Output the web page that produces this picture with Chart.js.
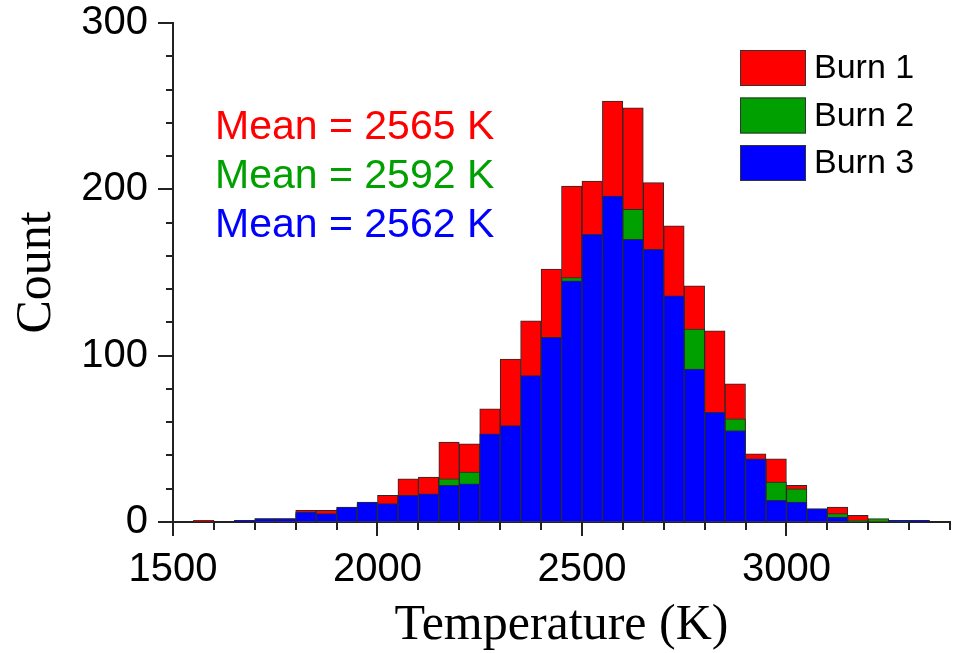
<!DOCTYPE html>
<html>
<head>
<meta charset="utf-8">
<script src="https://cdn.jsdelivr.net/npm/chart.js@4.4.1/dist/chart.umd.min.js"></script>
<style>
  html, body { margin: 0; padding: 0; background: #fff; }
  #wrap { width: 957px; height: 653px; }
</style>
</head>
<body>
<div id="wrap"><canvas id="canvas"></canvas></div>
<script>
// histogram bins, 50 K wide, left edges
var binStarts = [1550, 1600, 1650, 1700, 1750, 1800, 1850, 1900, 1950, 2000,
                 2050, 2100, 2150, 2200, 2250, 2300, 2350, 2400, 2450, 2500,
                 2550, 2600, 2650, 2700, 2750, 2800, 2850, 2900, 2950, 3000,
                 3050, 3100, 3150, 3200, 3250, 3300, 3350];
var binWidth = 50;
var burn1 = [1, 0, 0, 2, 1, 7, 7, 8, 11, 16,
             26, 27, 48, 47, 68, 98, 121, 152, 202, 205,
             253, 249, 204, 178, 142, 115, 83, 41, 38, 22,
             7, 9, 4, 1, 0, 0, 0];
var burn2 = [0, 0, 0, 1, 2, 5, 4, 7, 10, 9,
             14, 15, 26, 30, 45, 50, 80, 100, 147, 160,
             185, 188, 150, 130, 116, 60, 62, 35, 24, 20,
             6, 5, 1, 2, 1, 0, 0];
var burn3 = [0, 0, 1, 2, 2, 6, 5, 9, 12, 11,
             16, 17, 22, 23, 53, 58, 88, 111, 145, 173,
             196, 170, 164, 136, 92, 66, 55, 38, 13, 12,
             8, 3, 0, 0, 1, 1, 0];
var seriesNames = ['Burn 1', 'Burn 2', 'Burn 3'];
var seriesColors = ['#ff0000', '#00a000', '#0000ff'];
var meanLabels = ['Mean = 2565 K', 'Mean = 2592 K', 'Mean = 2562 K'];
var xLabelled = [1500, 2000, 2500, 3000];
var yLabelled = [0, 100, 200, 300];

function toPoints(values) {
  return values.map(function (v, i) {
    return { x: binStarts[i] + binWidth / 2, y: v };
  });
}

var sans = '"Liberation Sans", Arial, Helvetica, sans-serif';
var serif = '"Liberation Serif", "Times New Roman", serif';

// draws tick marks (long on labelled values), mean notes and the legend box
var decorations = {
  id: 'decorations',
  afterDraw: function (chart) {
    var ctx = chart.ctx;
    var xs = chart.scales.x, ys = chart.scales.y;
    ctx.save();
    ctx.strokeStyle = '#222';
    ctx.lineWidth = 2;
    xs.ticks.forEach(function (t) {
      var px = Math.round(xs.getPixelForValue(t.value));
      var len = xLabelled.indexOf(t.value) >= 0 ? 14 : 8;
      ctx.beginPath();
      ctx.moveTo(px, ys.bottom);
      ctx.lineTo(px, ys.bottom + len);
      ctx.stroke();
    });
    ys.ticks.forEach(function (t) {
      var py = Math.round(ys.getPixelForValue(t.value));
      var len = yLabelled.indexOf(t.value) >= 0 ? 15 : 7;
      ctx.beginPath();
      ctx.moveTo(xs.left, py);
      ctx.lineTo(xs.left - len, py);
      ctx.stroke();
    });

    ctx.font = '41px ' + sans;
    ctx.textBaseline = 'middle';
    ctx.textAlign = 'left';
    meanLabels.forEach(function (s, i) {
      ctx.fillStyle = seriesColors[i];
      ctx.fillText(s, 215, 128 + i * 49);
    });

    ctx.font = '34px ' + sans;
    seriesNames.forEach(function (s, i) {
      var top = 50 + i * 47.5;
      ctx.fillStyle = seriesColors[i];
      ctx.fillRect(740, top, 66, 36);
      ctx.lineWidth = 1;
      ctx.strokeStyle = '#333';
      ctx.strokeRect(740.5, top + 0.5, 65, 35);
      ctx.fillStyle = '#000';
      ctx.fillText(s, 814, top + 19);
    });
    ctx.restore();
  }
};

var datasets = [burn1, burn2, burn3].map(function (vals, i) {
  return {
    label: seriesNames[i],
    data: toPoints(vals),
    backgroundColor: seriesColors[i],
    borderColor: '#2a2a2a',
    borderWidth: 1,
    borderSkipped: 'start',
    grouped: false,
    order: 3 - i,
    barPercentage: 1,
    categoryPercentage: 1
  };
});

window.onload = function () {
  var ctx = document.getElementById('canvas').getContext('2d');
  window.myHist = new Chart(ctx, {
    type: 'bar',
    data: { datasets: datasets },
    options: {
      responsive: true,
      maintainAspectRatio: false,
      animation: false,
      layout: { padding: { left: 0, top: 23, right: 7, bottom: 0 } },
      plugins: {
        legend: { display: false },
        tooltip: { enabled: false }
      },
      scales: {
        x: {
          type: 'linear',
          min: 1500,
          max: 3400,
          offset: false,
          afterFit: function (s) {
            s.height = 131;
            s.paddingLeft = 0;
            s.paddingRight = 0;
          },
          border: { display: true, color: '#222', width: 2 },
          grid: { display: true, drawOnChartArea: false, drawTicks: false },
          ticks: {
            stepSize: 100,
            autoSkip: false,
            maxRotation: 0,
            padding: 24,
            color: '#000',
            font: { family: sans, size: 40 },
            callback: function (v) { return xLabelled.indexOf(v) >= 0 ? String(v) : ''; }
          },
          title: {
            display: true,
            text: 'Temperature (K)',
            color: '#000',
            font: { family: serif, size: 50, lineHeight: 1 },
            padding: { top: 0, bottom: 2 }
          }
        },
        y: {
          min: 0,
          max: 300,
          afterFit: function (s) {
            s.width = 173;
            s.paddingTop = 0;
            s.paddingBottom = 0;
          },
          border: { display: true, color: '#222', width: 2 },
          grid: { display: true, drawOnChartArea: false, drawTicks: false },
          ticks: {
            stepSize: 20,
            autoSkip: false,
            padding: 25,
            color: '#000',
            font: { family: sans, size: 40 },
            callback: function (v) { return yLabelled.indexOf(v) >= 0 ? String(v) : ''; }
          },
          title: {
            display: true,
            text: 'Count',
            color: '#000',
            font: { family: serif, size: 50, lineHeight: 1 },
            padding: { top: 12, bottom: 0 }
          }
        }
      }
    },
    plugins: [decorations]
  });
};
</script>
</body>
</html>
